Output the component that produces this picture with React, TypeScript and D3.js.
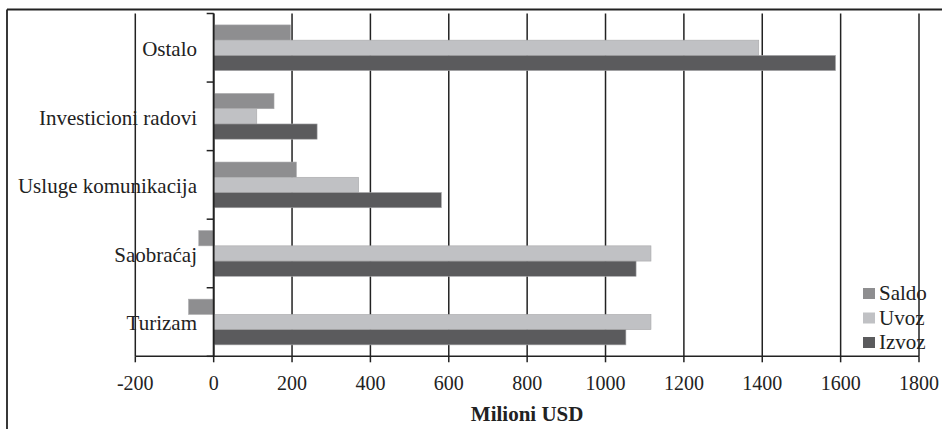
import React from "react";
import * as d3 from "d3";

const categories = ["Ostalo", "Investicioni radovi", "Usluge komunikacija", "Saobraćaj", "Turizam"];
const seriesNames = ["Saldo", "Uvoz", "Izvoz"];
const saldo = [196, 154, 211, -38, -64];
const uvoz = [1391, 110, 370, 1116, 1116];
const izvoz = [1587, 264, 581, 1078, 1052];
const xTicks = [-200, 0, 200, 400, 600, 800, 1000, 1200, 1400, 1600, 1800];
const colors = ["#8e8e90", "#c0c1c4", "#5b5b5d"];

const W = 942;
const H = 429;
const FONT = "Liberation Serif, Tinos, Times New Roman, Times, DejaVu Serif, serif";

export default function App() {
  const x = d3.scaleLinear().domain([-200, 1800]).range([135.3, 919]);
  const y = d3.scaleBand<string>().domain(categories).range([13.5, 356.3]);
  const sub = d3
    .scaleBand<string>()
    .domain(seriesNames)
    .range([0, y.bandwidth()])
    .paddingInner(0)
    .paddingOuter(0.75);
  const values = [saldo, uvoz, izvoz];
  const x0 = x(0);
  const bottom = 356.3;
  const top = 13.5;
  const ink = "#222";
  const textStyle = { fontFamily: FONT };

  return (
    <svg
      width={W}
      height={H}
      style={{ position: "absolute", left: 0, top: 0, background: "#fff", fontFamily: FONT }}
    >
      {/* outer frame */}
      <line x1={7} x2={W} y1={9.5} y2={9.5} stroke={ink} strokeWidth={1.8} />
      <line x1={7} x2={7} y1={9.5} y2={H} stroke={ink} strokeWidth={1.8} />

      {/* vertical gridlines */}
      {xTicks.map((t) => (
        <line
          key={"g" + t}
          x1={x(t)}
          x2={x(t)}
          y1={top}
          y2={bottom}
          stroke={ink}
          strokeWidth={1.5}
        />
      ))}

      {/* bars */}
      {categories.map((c, i) =>
        seriesNames.map((s, j) => {
          const v = values[j][i];
          const xa = x(Math.min(0, v));
          const xb = x(Math.max(0, v));
          return (
            <rect
              key={c + s}
              x={xa}
              y={(y(c) as number) + (sub(s) as number)}
              width={xb - xa}
              height={sub.bandwidth()}
              fill={colors[j]}
              stroke="#a8a8aa"
              strokeWidth={0.6}
            />
          );
        })
      )}

      {/* category axis at zero */}
      <line x1={x0} x2={x0} y1={top} y2={bottom} stroke={ink} strokeWidth={1.8} />
      {[...categories.map((c) => y(c) as number), bottom].map((v, i) => (
        <line key={"ct" + i} x1={x0 - 7} x2={x0} y1={v} y2={v} stroke={ink} strokeWidth={1.5} />
      ))}
      {categories.map((c) => (
        <text
          key={"l" + c}
          x={197}
          y={(y(c) as number) + y.bandwidth() / 2 + 1}
          dy="0.35em"
          textAnchor="end"
          fontSize={21}
          fill="#222"
          style={textStyle}
        >
          {c}
        </text>
      ))}

      {/* value axis */}
      <line x1={x(-200)} x2={x(1800)} y1={bottom} y2={bottom} stroke={ink} strokeWidth={1.5} />
      {xTicks.map((t) => (
        <g key={"t" + t}>
          <line x1={x(t)} x2={x(t)} y1={bottom} y2={bottom + 6} stroke={ink} strokeWidth={1.5} />
          <text x={x(t)} y={390} textAnchor="middle" fontSize={20} fill="#222" style={textStyle}>
            {t}
          </text>
        </g>
      ))}
      <text
        x={(x(-200) + x(1800)) / 2}
        y={421}
        textAnchor="middle"
        fontSize={21}
        fontWeight="bold"
        fill="#222"
        style={textStyle}
      >
        Milioni USD
      </text>

      {/* legend */}
      {seriesNames.map((s, j) => (
        <g key={"lg" + s} transform={`translate(863, ${288 + j * 24.5})`}>
          <rect x={0} y={0} width={12} height={11} fill={colors[j]} />
          <text x={16} y={12} fontSize={21} fill="#222" style={textStyle}>
            {s}
          </text>
        </g>
      ))}
    </svg>
  );
}
